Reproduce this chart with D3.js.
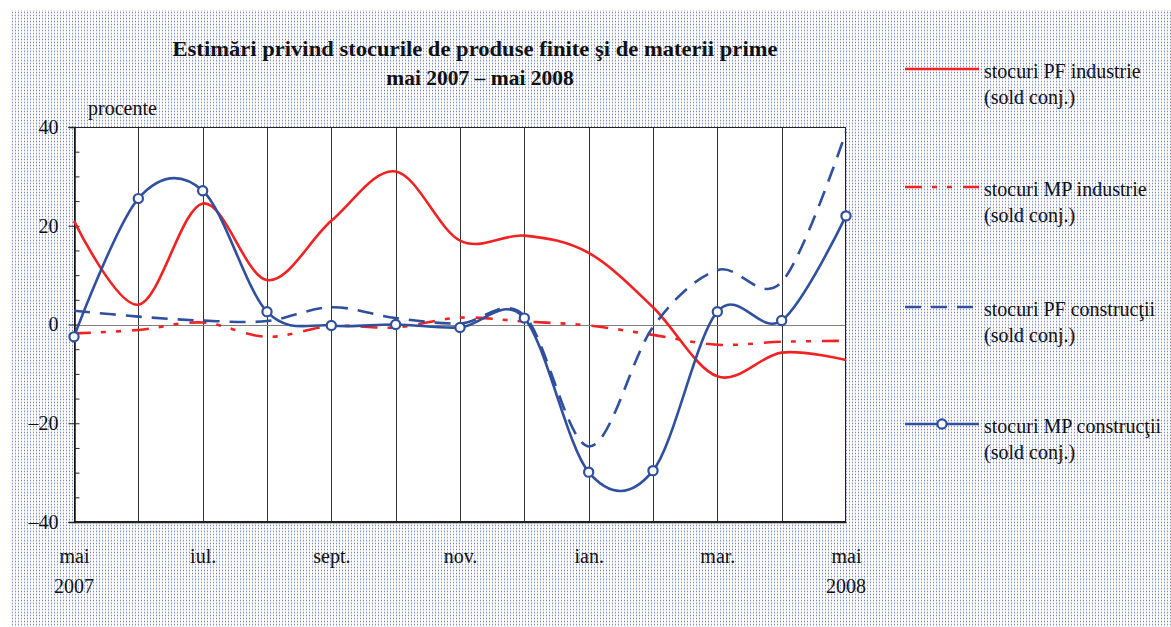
<!DOCTYPE html>
<html>
<head>
<meta charset="utf-8">
<script src="https://cdn.jsdelivr.net/npm/d3@7"></script>
<style>
  html, body { margin: 0; padding: 0; background: #fff; }
  svg { display: block; }
  text { font-family: "Liberation Serif", "Times New Roman", serif; fill: #111; }
</style>
</head>
<body>
<svg id="chart" width="1171" height="627"></svg>
<script>
// ---- data ----
const categories = ["mai 2007", "iun. 2007", "iul. 2007", "aug. 2007", "sept. 2007", "oct. 2007",
  "nov. 2007", "dec. 2007", "ian. 2008", "feb. 2008", "mar. 2008", "apr. 2008", "mai 2008"];
const tickCategories = ["mai 2007", "iul. 2007", "sept. 2007", "nov. 2007", "ian. 2008", "mar. 2008", "mai 2008"];
const tickLabels = ["mai", "iul.", "sept.", "nov.", "ian.", "mar.", "mai"];
const yearLabels = ["2007", "2008"];
const yTicks = [-40, -20, 0, 20, 40];

const pfIndustrie   = [21, 4, 24.5, 9, 21, 31, 17, 18, 14.5, 3.5, -10.5, -5.7, -7.2];
const mpIndustrie   = [-1.8, -1.1, 0.4, -2.5, -0.3, -0.6, 1.4, 0.6, -0.2, -2.1, -4.1, -3.5, -3.3];
const pfConstructii = [2.8, 1.6, 0.8, 0.7, 3.5, 1.3, 0.2, 1.8, -24.7, -0.5, 11, 8.6, 39];
const mpConstructii = [-2.5, 25.5, 27.1, 2.6, -0.2, 0.0, -0.6, 1.3, -29.9, -29.6, 2.6, 0.8, 22];

const seriesNames = ["stocuri PF industrie", "stocuri MP industrie", "stocuri PF construcţii", "stocuri MP construcţii"];
const seriesNote = "(sold conj.)";
const titleLines = ["Estimări privind stocurile de produse finite şi de materii prime", "mai 2007 – mai 2008"];
const unitLabel = "procente";

// ---- styles ----
const RED = "#f02222", BLUE = "#2f4f9f";
const styles = [
  { color: RED,  dash: null, marker: false },
  { color: RED,  dash: "17,10,5,10,5,11", marker: false },
  { color: BLUE, dash: "16,10", marker: false },
  { color: BLUE, dash: null, marker: true }
];
const seriesData = [pfIndustrie, mpIndustrie, pfConstructii, mpConstructii];

const svg = d3.select("#chart");
const W = 1171, H = 627;
const plot = { left: 74, right: 846, top: 127, bottom: 522 };

// background dotted pattern
const defs = svg.append("defs");
const pat = defs.append("pattern").attr("id", "dots").attr("patternUnits", "userSpaceOnUse")
  .attr("width", 3).attr("height", 3);
pat.append("rect").attr("width", 3).attr("height", 3).attr("fill", "#fff");
pat.append("rect").attr("x", 0).attr("y", 0).attr("width", 1).attr("height", 1).attr("fill", "#7d8bc6");
pat.append("rect").attr("x", 0).attr("y", 1.5).attr("width", 1).attr("height", 1).attr("fill", "#b4bad6");
svg.append("rect").attr("width", W).attr("height", H).attr("fill", "#fff");
svg.append("rect").attr("x", 10).attr("y", 10).attr("width", W - 10).attr("height", H - 10).attr("fill", "url(#dots)");

const x = d3.scalePoint().domain(categories).range([plot.left, plot.right]);
const y = d3.scaleLinear().domain([-40, 40]).range([plot.bottom, plot.top]);

// plot area
svg.append("rect").attr("x", plot.left).attr("y", plot.top)
  .attr("width", plot.right - plot.left).attr("height", plot.bottom - plot.top)
  .attr("fill", "#fff");

// vertical grid lines
svg.append("g").selectAll("line").data(categories.slice(1, -1)).join("line")
  .attr("x1", d => Math.round(x(d)) + 0.5).attr("x2", d => Math.round(x(d)) + 0.5)
  .attr("y1", plot.top).attr("y2", plot.bottom)
  .attr("stroke", "#333").attr("stroke-width", 1);

// zero line
svg.append("line").attr("x1", plot.left).attr("x2", plot.right)
  .attr("y1", Math.round(y(0)) + 0.5).attr("y2", Math.round(y(0)) + 0.5)
  .attr("stroke", "#808080").attr("stroke-width", 1.2);

// plot border
svg.append("rect").attr("x", plot.left + 0.5).attr("y", plot.top + 0.5)
  .attr("width", plot.right - plot.left - 1).attr("height", plot.bottom - plot.top - 1)
  .attr("fill", "none").attr("stroke", "#222").attr("stroke-width", 1);

// y axis (major ticks with labels)
const fmt = d => d < 0 ? "–" + Math.abs(d) : String(d);
const yAxis = svg.append("g").attr("transform", `translate(${plot.left + 0.5},0)`)
  .call(d3.axisLeft(y).tickValues(yTicks).tickSize(6).tickPadding(10).tickFormat(fmt));
yAxis.select(".domain").attr("stroke", "#111").attr("stroke-width", 1.5);
yAxis.selectAll("line").attr("stroke", "#222");
yAxis.selectAll("text").attr("font-size", 20).attr("font-family", "Liberation Serif").attr("fill", "#111");
// minor ticks inside
const yMinor = svg.append("g").attr("transform", `translate(${plot.left + 0.5},0)`)
  .call(d3.axisLeft(y).tickValues(d3.range(-40, 41, 5)).tickSize(-5).tickFormat(""));
yMinor.select(".domain").remove();
yMinor.selectAll("line").attr("stroke", "#222");

// x axis labels
const xAxis = svg.append("g").attr("transform", `translate(0,${plot.bottom})`)
  .call(d3.axisBottom(x).tickValues(tickCategories).tickSize(0).tickPadding(27)
    .tickFormat((d, i) => tickLabels[i]));
xAxis.select(".domain").attr("stroke", "#222").attr("stroke-width", 1.5);
xAxis.selectAll("text").attr("font-size", 20).attr("font-family", "Liberation Serif").attr("fill", "#111");

svg.append("g").selectAll("text").data([categories[0], categories[categories.length - 1]]).join("text")
  .attr("x", d => x(d)).attr("y", 593).attr("text-anchor", "middle").attr("font-size", 20)
  .text((d, i) => yearLabels[i]);

// unit label
svg.append("text").attr("x", 88).attr("y", 115).attr("font-size", 20).text(unitLabel);

// title
const t1 = svg.append("text").attr("x", 475).attr("y", 56).attr("text-anchor", "middle")
  .attr("font-size", 22).attr("font-weight", "bold").attr("textLength", 605)
  .attr("lengthAdjust", "spacingAndGlyphs").text(titleLines[0]);
svg.append("text").attr("x", 480).attr("y", 85).attr("text-anchor", "middle")
  .attr("font-size", 21.5).attr("font-weight", "bold").text(titleLines[1]);

// series
const line = d3.line().x((d, i) => x(categories[i])).y(d => y(d)).curve(d3.curveCardinal.tension(0));
const sg = svg.append("g");
seriesData.forEach((vals, k) => {
  const st = styles[k];
  sg.append("path").datum(vals).attr("d", line).attr("fill", "none")
    .attr("stroke", st.color).attr("stroke-width", 2.6)
    .attr("stroke-dasharray", st.dash).attr("stroke-linejoin", "round");
  if (st.marker) {
    sg.append("g").selectAll("circle").data(vals).join("circle")
      .attr("cx", (d, i) => x(categories[i])).attr("cy", d => y(d)).attr("r", 4.6)
      .attr("fill", "#fff").attr("stroke", st.color).attr("stroke-width", 2.2);
  }
});

// legend
const legendY = [69, 187, 307, 424];
const lg = svg.append("g");
seriesNames.forEach((name, k) => {
  const st = styles[k];
  const ly = legendY[k];
  lg.append("line").attr("x1", 905).attr("x2", 979).attr("y1", ly).attr("y2", ly)
    .attr("stroke", st.color).attr("stroke-width", 2.6).attr("stroke-dasharray", st.dash);
  if (st.marker) {
    lg.append("circle").attr("cx", 942).attr("cy", ly).attr("r", 4.6)
      .attr("fill", "#fff").attr("stroke", st.color).attr("stroke-width", 2.2);
  }
  lg.append("text").attr("x", 984).attr("y", ly + 9).attr("font-size", 20).text(name);
  lg.append("text").attr("x", 984).attr("y", ly + 35).attr("font-size", 20).text(seriesNote);
});
</script>
</body>
</html>
